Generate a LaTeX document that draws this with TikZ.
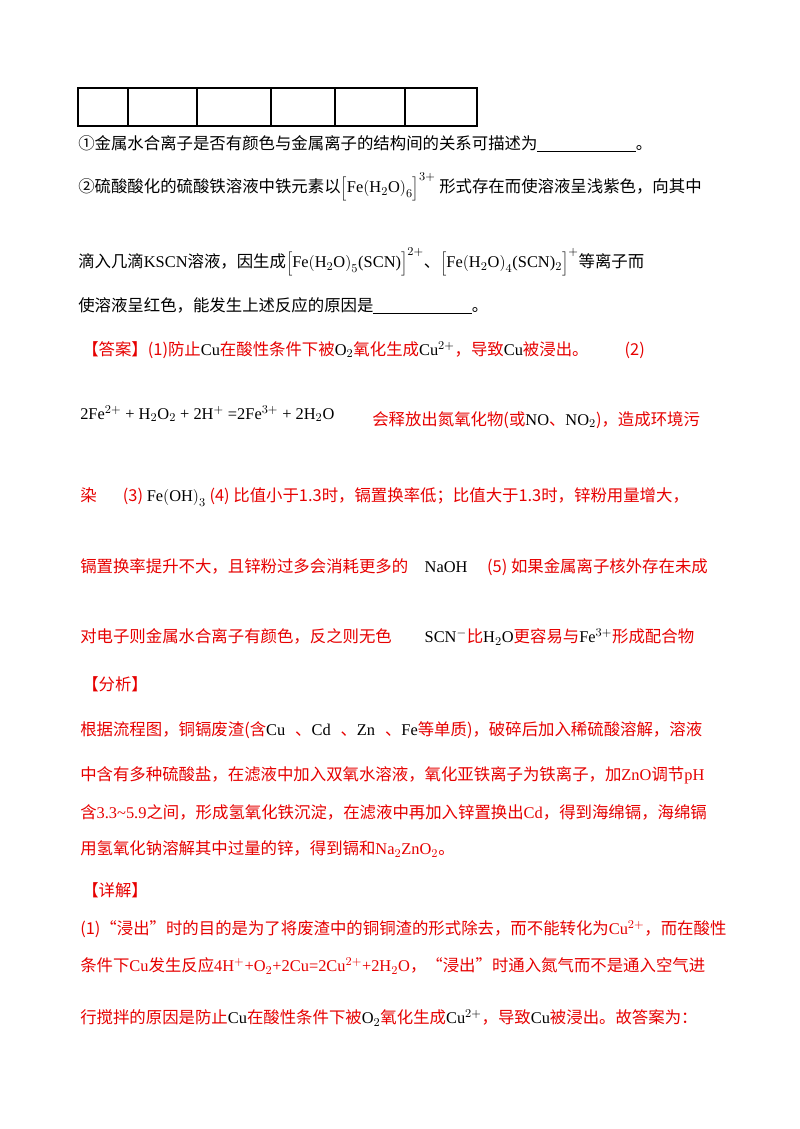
\documentclass[tikz,border=0pt]{standalone}
\usepackage{fontspec}
\setmainfont{Noto Sans CJK SC}
\newfontfamily\lat{Liberation Serif}
\newcommand{\ch}[1]{{\lat #1}}
\definecolor{ansred}{RGB}{230,0,0}
\tikzset{
  txt/.style={anchor=west, inner sep=0pt, font=\fontsize{12.3}{15}\selectfont},
  red/.style={txt, text=ansred},
}
\begin{document}
\begin{tikzpicture}[x=0.75pt,y=-0.75pt]
\useasboundingbox (0,0) rectangle (800,1129);
% table
\draw[line width=0.9pt] (78,88) rectangle (477,126);
\foreach \cx in {128,197,271,335,405}
  \draw[line width=0.9pt] (\cx,88) -- (\cx,126);
% question part
\node[txt] (q1) at (78,144) {①金属水合离子是否有颜色与金属离子的结构间的关系可描述为\underline{\hspace{6em}}。};
\node[txt] (q2) at (78,187) {②硫酸酸化的硫酸铁溶液中铁元素以$\Bigl[$\ch{Fe}$\bigl($\ch{H}$_2$\ch{O}$\bigr)_6\Bigr]^{3+}$ 形式存在而使溶液呈浅紫色，向其中};
\node[txt] (q3) at (78,262) {滴入几滴\ch{KSCN}溶液，因生成$\Bigl[$\ch{Fe}$\bigl($\ch{H}$_2$\ch{O}$\bigr)_5$\ch{(SCN)}$\Bigr]^{2+}$、$\Bigl[$\ch{Fe}$\bigl($\ch{H}$_2$\ch{O}$\bigr)_4$\ch{(SCN)}$_2\Bigr]^{+}$等离子而};
\node[txt] (q4) at (78,306) {使溶液呈红色，能发生上述反应的原因是\underline{\hspace{6em}}。};
% answer
\node[red] (a1) at (82,350) {【答案】(1)防止\textcolor{black}{\ch{Cu}}在酸性条件下被\textcolor{black}{\ch{O}$_2$}氧化生成\textcolor{black}{\ch{Cu}$^{2+}$}，导致\textcolor{black}{\ch{Cu}}被浸出。\hspace{2.2em}(2)};
\node[txt] (a2) at (80,414) {\ch{2Fe}$^{2+}$\ch{ + H}$_2$\ch{O}$_2$\ch{ + 2H}$^+$\ch{ =2Fe}$^{3+}$\ch{ + 2H}$_2$\ch{O}};
\node[red] (a3) at (372,420) {会释放出氮氧化物(或\textcolor{black}{\ch{NO}}、\textcolor{black}{\ch{NO}$_2$})，造成环境污};
\node[red] (a4) at (80,497) {染\hspace{1.6em}(3) \textcolor{black}{\ch{Fe}$\bigl($\ch{OH}$\bigr)_3$} (4) 比值小于1.3时，镉置换率低；比值大于1.3时，锌粉用量增大，};
\node[red] (a5) at (80,567) {镉置换率提升不大，且锌粉过多会消耗更多的\hspace{1em}\textcolor{black}{\ch{NaOH}}\hspace{1.2em}(5) 如果金属离子核外存在未成};
\node[red] (a6) at (80,637) {对电子则金属水合离子有颜色，反之则无色\hspace{2em}\textcolor{black}{\ch{SCN}$^-$}比\textcolor{black}{\ch{H}$_2$\ch{O}}更容易与\textcolor{black}{\ch{Fe}$^{3+}$}形成配合物};
% analysis
\node[red] (b0) at (82,684) {【分析】};
\node[red] (b1) at (80,730) {根据流程图，铜镉废渣(含\textcolor{black}{\ch{Cu}}\hspace{0.6em}、\textcolor{black}{\ch{Cd}}\hspace{0.6em}、\textcolor{black}{\ch{Zn}}\hspace{0.6em}、\textcolor{black}{\ch{Fe}}等单质)，破碎后加入稀硫酸溶解，溶液};
\node[red] (b2) at (80,775) {中含有多种硫酸盐，在滤液中加入双氧水溶液，氧化亚铁离子为铁离子，加\ch{ZnO}调节\ch{pH}};
\node[red] (b3) at (80,812) {含\ch{3.3\textasciitilde5.9}之间，形成氢氧化铁沉淀，在滤液中再加入锌置换出\ch{Cd}，得到海绵镉，海绵镉};
\node[red] (b4) at (80,849) {用氢氧化钠溶解其中过量的锌，得到镉和\ch{Na$_2$ZnO$_2$}。};
% details
\node[red] (c0) at (82,890) {【详解】};
\node[red] (c1) at (80,929) {(1)“浸出”时的目的是为了将废渣中的铜铜渣的形式除去，而不能转化为\ch{Cu}$^{2+}$，而在酸性};
\node[red] (c2) at (80,966) {条件下\ch{Cu}发生反应\ch{4H}$^+$\ch{+O}$_2$\ch{+2Cu=2Cu}$^{2+}$\ch{+2H}$_2$\ch{O}，“浸出”时通入氮气而不是通入空气进};
\node[red] (c3) at (80,1018) {行搅拌的原因是防止\textcolor{black}{\ch{Cu}}在酸性条件下被\textcolor{black}{\ch{O}$_2$}氧化生成\textcolor{black}{\ch{Cu}$^{2+}$}，导致\textcolor{black}{\ch{Cu}}被浸出。故答案为：};
\end{tikzpicture}
\end{document}
